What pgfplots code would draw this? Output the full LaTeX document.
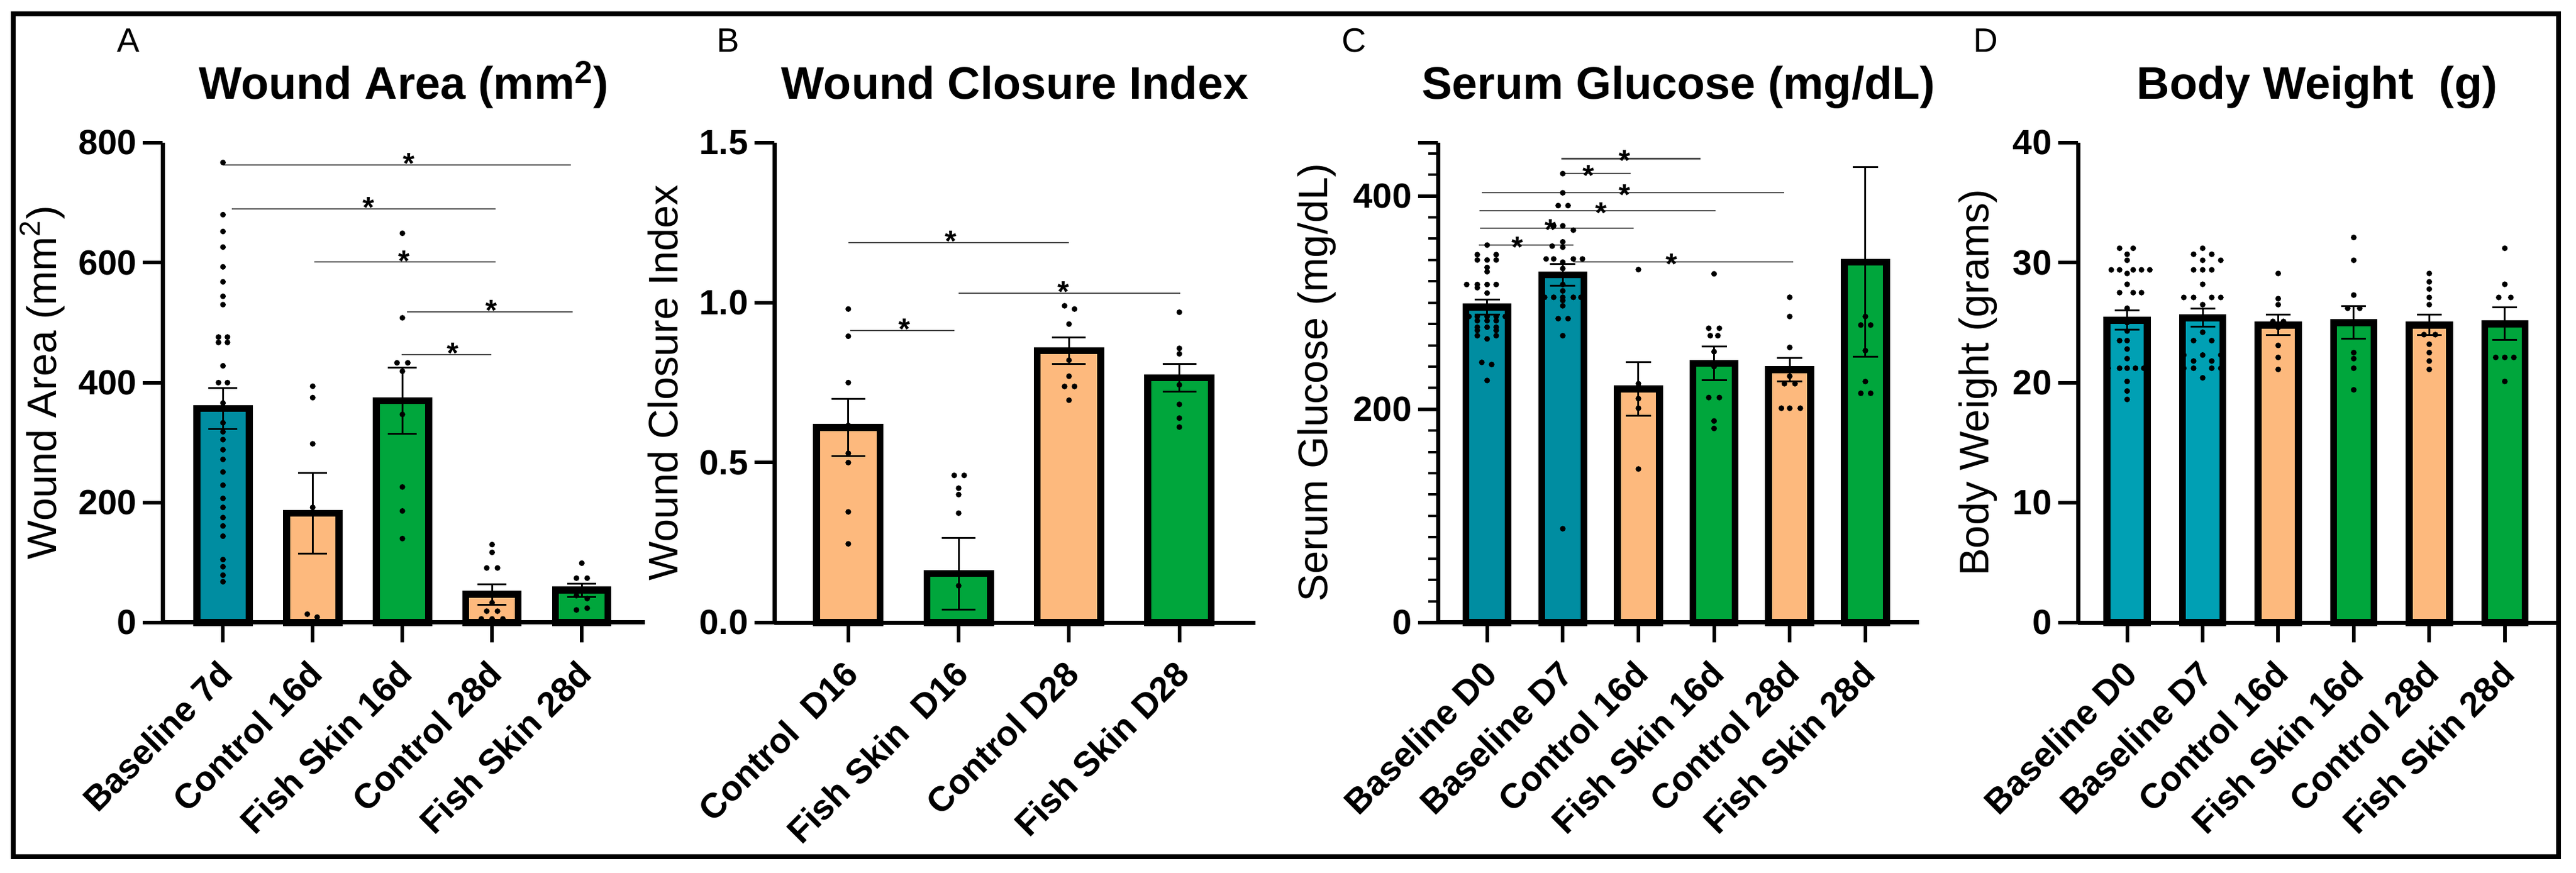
\documentclass[border=0pt]{standalone}
\usepackage{fontspec}
\setmainfont{Liberation Sans}
\usepackage{pgfplots}
\pgfplotsset{compat=1.18}

\definecolor{tealA}{RGB}{0,141,161}
\definecolor{tealD}{RGB}{0,160,180}
\definecolor{orng}{RGB}{253,185,125}
\definecolor{grn}{RGB}{0,166,60}

\pgfplotsset{
  panel/.style={
    scale only axis, height=79.7mm, anchor=south west, clip=false,
    axis x line=bottom, axis y line=left,
    axis line style={-, line width=0.7mm},
    tick align=outside,
    major tick length=3.3mm, minor tick length=1.6mm,
    major tick style={line width=0.6mm, black},
    minor tick style={line width=0.4mm, black},
    ymin=0,
    xticklabel style={xshift=-1.0mm, yshift=-2.6mm, rotate=45, anchor=north east,
      inner sep=0pt, font=\bfseries\fontsize{16.5}{16.5}\selectfont},
    yticklabel style={inner xsep=1mm, font=\bfseries\fontsize{16.5}{16.5}\selectfont},
    ylabel style={anchor=center, font=\fontsize{19.5}{19.5}\selectfont},
    title style={at={(0.5,1)}, anchor=base, yshift=5.1mm,
      font=\bfseries\fontsize{21.5}{21.5}\selectfont},
  },
  bars/.style={ybar, bar width=#1, bar shift=0pt, draw=black, line width=1.15mm,
    line join=miter,
    error bars/y dir=both, error bars/y explicit,
    error bars/error bar style={line width=0.3mm, black},
    error bars/error mark options={rotate=90, mark size=2.4mm, line width=0.3mm, black}},
  dots/.style={only marks, mark=*, mark size=0.4mm, black},
  sig/.style={line width=0.22mm, color=black!70, mark=none, forget plot},
}
\tikzset{sigstar/.style={anchor=base, inner sep=0pt, yshift=-1.5mm,
  font=\bfseries\fontsize{14}{14}\selectfont},
  letter/.style={anchor=base, inner sep=0pt, font=\fontsize{16}{16}\selectfont}}

\begin{document}
\begin{tikzpicture}
\path[fill=white] (0,0) rectangle (427.8mm,144.9mm);

% ---------------- A
\begin{axis}[panel, at={(27.05mm,41.5mm)}, width=80mm,
  xmin=-0.67, xmax=4.7, ymax=800,
  xtick={0,...,4},
  xticklabels={Baseline 7d,Control 16d,Fish Skin 16d,Control 28d,Fish Skin 28d},
  ytick={0,200,400,600,800}, yticklabels={0,200,400,600,800},
  ylabel={Wound Area (mm\textsuperscript{2})},
  ylabel style={at={(axis description cs:-0.25,0.5)}},
  title={Wound Area (mm\textsuperscript{2})}]
\addplot[bars=8.7mm, fill=tealA] coordinates {(0,357) +- (0,34)};
\addplot[bars=8.7mm, fill=orng] coordinates {(1,182) +- (0,67) (3,47) +- (0,17)};
\addplot[bars=8.7mm, fill=grn] coordinates {(2,370) +- (0,55) (4,54) +- (0,11)};
\addplot[dots] coordinates {
 (0,767) (0,680) (0,652) (0,626) (0,593) (0,568) (0,544) (0,530)
 (-0.05,476) (0.05,476) (-0.05,467) (0.05,467) (0,428) (-0.05,400) (0.05,400)
 (0,366) (-0.05,356) (0.05,356) (0,333) (0,318) (0,305) (0,288) (0,272)
 (0,251) (0,229) (0,207) (0,192) (0,175) (0,161) (0,144) (0,105) (0,93) (0,79) (0,68)
 (1,394) (1,375) (1,298) (1,192) (0.94,14) (1.05,9)
 (2,649) (2,508) (1.94,433) (2.06,433) (2,419) (2,347) (2,226) (2,186) (2,140)
 (3,130) (3,117) (2.94,91) (3.06,91) (3,33) (2.94,19) (3.06,19) (2.88,6) (3,6) (3.12,6)
 (4,99) (3.94,74) (4.06,74) (3.94,45) (4.06,40) (3.94,21) (4.06,24)};
\addplot[sig] coordinates {(0,763) (3.88,763)};
\addplot[sig] coordinates {(0.1,690) (3.04,690)};
\addplot[sig] coordinates {(1.02,601) (3.04,601)};
\addplot[sig] coordinates {(2.05,518) (3.9,518)};
\addplot[sig] coordinates {(1.99,447) (2.99,447)};
\node[sigstar] at (axis cs:2.07,763) {*};
\node[sigstar] at (axis cs:1.62,690) {*};
\node[sigstar] at (axis cs:2.02,601) {*};
\node[sigstar] at (axis cs:2.99,518) {*};
\node[sigstar] at (axis cs:2.56,447) {*};
\end{axis}

% ---------------- B
\begin{axis}[panel, at={(128.6mm,41.5mm)}, width=79.9mm,
  xmin=-0.67, xmax=3.69, ymax=1.5,
  xtick={0,...,3},
  xticklabels={Control~~D16,Fish Skin~~D16,Control D28,Fish Skin D28},
  ytick={0,0.5,1,1.5}, yticklabels={0.0,0.5,1.0,1.5},
  ylabel={Wound Closure Index},
  ylabel style={at={(axis description cs:-0.232,0.5)}},
  title={Wound Closure Index}]
\addplot[bars=10.55mm, fill=orng, error bars/error mark options={rotate=90, mark size=2.8mm, line width=0.3mm, black}]
  coordinates {(0,0.61) +- (0,0.09) (2,0.85) +- (0,0.042)};
\addplot[bars=10.55mm, fill=grn, error bars/error mark options={rotate=90, mark size=2.8mm, line width=0.3mm, black}]
  coordinates {(1,0.153) +- (0,0.112) (3,0.765) +- (0,0.043)};
\addplot[dots] coordinates {
 (0,0.98) (0,0.895) (0,0.75) (0,0.616) (0,0.529) (0,0.5) (0,0.346) (0,0.246)
 (0.96,0.46) (1.05,0.46) (1,0.42) (1,0.40) (1,0.342) (1,0.115)
 (1.96,0.99) (2.05,0.98) (2,0.933) (2,0.82) (2,0.77) (1.96,0.738) (2.05,0.738) (2,0.695)
 (3,0.97) (3,0.857) (3,0.84) (3,0.764) (3,0.743) (3,0.682) (3,0.639) (3,0.611)};
\addplot[sig] coordinates {(0,1.188) (2,1.188)};
\addplot[sig] coordinates {(1,1.03) (3.01,1.03)};
\addplot[sig] coordinates {(0.02,0.913) (0.96,0.913)};
\node[sigstar] at (axis cs:0.93,1.188) {*};
\node[sigstar] at (axis cs:1.95,1.03) {*};
\node[sigstar] at (axis cs:0.51,0.913) {*};
\end{axis}

% ---------------- C
\begin{axis}[panel, at={(238.8mm,41.5mm)}, width=79.9mm,
  xmin=-0.65, xmax=5.71, ymax=450,
  xtick={0,...,5},
  xticklabels={Baseline D0,Baseline D7,Control 16d,Fish Skin 16d,Control 28d,Fish Skin 28d},
  ytick={0,200,400}, yticklabels={0,200,400},
  minor ytick={20,40,...,440},
  extra y ticks={450}, extra y tick labels={},
  ylabel={Serum Glucose (mg/dL)},
  ylabel style={at={(axis description cs:-0.252,0.5)}},
  title={Serum Glucose (mg/dL)}]
\addplot[bars=7.0mm, fill=tealA, error bars/error mark options={rotate=90, mark size=2.1mm, line width=0.3mm, black}]
  coordinates {(0,296) +- (0,7) (1,326) +- (0,10)};
\addplot[bars=7.0mm, fill=orng, error bars/error mark options={rotate=90, mark size=2.1mm, line width=0.3mm, black}]
  coordinates {(2,219) +- (0,25) (4,237) +- (0,11)};
\addplot[bars=7.0mm, fill=grn, error bars/error mark options={rotate=90, mark size=2.1mm, line width=0.3mm, black}]
  coordinates {(3,243) +- (0,16) (5,338) +- (0,89)};
\addplot[dots] coordinates {
 (0,354) (-0.13,345) (0.12,345) (-0.13,340) (0,340) (0.12,340) (0,333) (0,329)
 (-0.27,317) (-0.13,317) (0,317) (0.12,317) (-0.13,314) (0,309)
 (-0.24,287) (-0.13,287) (0,287) (0.12,287) (0.24,287) (-0.13,283) (0,283) (0.12,283)
 (-0.13,277) (0,277) (0.12,277) (-0.13,274) (0.12,274) (-0.13,269) (0.12,269) (0,266)
 (-0.07,244) (0.06,242) (0,227)
 (1,421) (1,403) (0.94,391) (1.07,391) (1,372) (0.88,372) (1.14,368) (1,357) (0.86,353) (1,352)
 (0.78,341) (0.88,341) (1.14,341) (1.26,341) (1,338) (1,332) (1,317) (1,311)
 (0.76,305) (0.88,305) (1,305) (1.14,305) (1.24,305) (1,302) (1,297) (0.94,285) (1.07,285) (1,269) (1,88)
 (2,331) (2,224) (2,210) (2,201) (2,144)
 (3,327) (2.93,276) (3.07,276) (2.95,269) (3.05,269) (3,254) (3,240) (2.93,211) (3.07,211) (3,189) (3,182)
 (4,305) (4,287) (4,258) (4,231) (3.93,224) (4.07,224) (3.89,201) (4,201) (4.14,201)
 (5,287) (4.94,279) (5.07,279) (5,255) (5,226) (4.94,215) (5.07,215)};
\addplot[sig] coordinates {(0.98,435) (2.82,435)};
\addplot[sig] coordinates {(0.98,421) (1.9,421)};
\addplot[sig] coordinates {(-0.07,403) (3.93,403)};
\addplot[sig] coordinates {(-0.1,386) (3.02,386)};
\addplot[sig] coordinates {(-0.09,370) (1.94,370)};
\addplot[sig] coordinates {(-0.11,354) (1.14,354)};
\addplot[sig] coordinates {(1.14,338) (4.05,338)};
\node[sigstar, yshift=-0.5mm] at (axis cs:1.82,435) {*};
\node[sigstar, yshift=-0.5mm] at (axis cs:1.34,421) {*};
\node[sigstar, yshift=-0.5mm] at (axis cs:1.82,403) {*};
\node[sigstar, yshift=-0.5mm] at (axis cs:1.51,386) {*};
\node[sigstar, yshift=-0.5mm] at (axis cs:0.84,370) {*};
\node[sigstar, yshift=-0.5mm] at (axis cs:0.40,354) {*};
\node[sigstar, yshift=-0.5mm] at (axis cs:2.44,338) {*};
\end{axis}

% ---------------- D
\begin{axis}[panel, at={(345.1mm,41.5mm)}, width=79.4mm,
  xmin=-0.65, xmax=5.68, ymax=40,
  xtick={0,...,5},
  xticklabels={Baseline D0,Baseline D7,Control 16d,Fish Skin 16d,Control 28d,Fish Skin 28d},
  ytick={0,10,20,30,40}, yticklabels={0,10,20,30,40},
  ylabel={Body Weight (grams)},
  ylabel style={at={(axis description cs:-0.21,0.5)}},
  title={Body Weight~~(g)}]
\addplot[bars=6.7mm, fill=tealD, error bars/error mark options={rotate=90, mark size=2.05mm, line width=0.3mm, black}]
  coordinates {(0,25.2) +- (0,0.8) (1,25.4) +- (0,0.75)};
\addplot[bars=6.7mm, fill=orng, error bars/error mark options={rotate=90, mark size=2.05mm, line width=0.3mm, black}]
  coordinates {(2,24.8) +- (0,0.85) (4,24.8) +- (0,0.85)};
\addplot[bars=6.7mm, fill=grn, error bars/error mark options={rotate=90, mark size=2.05mm, line width=0.3mm, black}]
  coordinates {(3,25.0) +- (0,1.35) (5,24.9) +- (0,1.35)};
\addplot[dots] coordinates {
 (-0.10,31.2) (0.08,31.2) (0,30.7) (0,30.2) (-0.21,29.4) (-0.10,29.4) (0.08,29.4) (0.19,29.4) (0.30,29.4)
 (0,29.1) (0,28.2) (-0.10,27.5) (0.08,27.5) (0.19,27.5) (0,26.2) (0,25.0) (0,24.3)
 (-0.10,23.5) (0,23.5) (0,22.8) (0,22.0) (-0.25,21.2) (-0.10,21.2) (0,21.2) (0.11,21.2) (0.22,21.2)
 (0,20.1) (0,19.3) (0,18.6)
 (1,31.2) (0.88,30.7) (1.12,30.7) (1,30.2) (1.24,30.2) (0.88,29.4) (1,29.4) (1.12,29.4) (1,28.2)
 (0.75,27.1) (0.88,27.1) (1.12,27.1) (1.24,27.1) (1,26.5) (1,24.2) (0.88,23.5) (1.12,23.5)
 (0.75,22.3) (1,22.3) (1.24,22.3) (0.88,21.8) (1.12,21.8) (0.75,21.2) (0.88,21.2) (1.12,21.2) (1.24,21.2) (1,20.4)
 (2,29.1) (2,27.0) (2,26.5) (1.93,25.1) (2.07,25.1) (2,24.6) (2,23.1) (2,22.1) (2,21.1)
 (3,32.1) (3,30.2) (3,27.3) (2.92,26.2) (3.08,26.2) (3,22.5) (3,22.0) (3,21.2) (3,19.4)
 (4,29.1) (4,28.4) (4,27.8) (4,27.1) (4,26.5) (3.93,24.0) (4.08,24.0) (4,23.2) (4,22.5) (4,21.8) (4,21.1)
 (5,31.2) (5,28.2) (4.92,27.1) (5.08,27.1) (4.88,22.1) (5,22.1) (5.12,22.1) (5,20.1)};
\end{axis}

% panel letters and frame
\node[letter] at (21.3mm,136.2mm) {A};
\node[letter] at (120.9mm,136.2mm) {B};
\node[letter] at (224.9mm,136.2mm) {C};
\node[letter] at (329.8mm,136.2mm) {D};
\draw[line width=0.8mm] (2.15mm,2.65mm) rectangle (424.85mm,142.55mm);
\end{tikzpicture}
\end{document}
